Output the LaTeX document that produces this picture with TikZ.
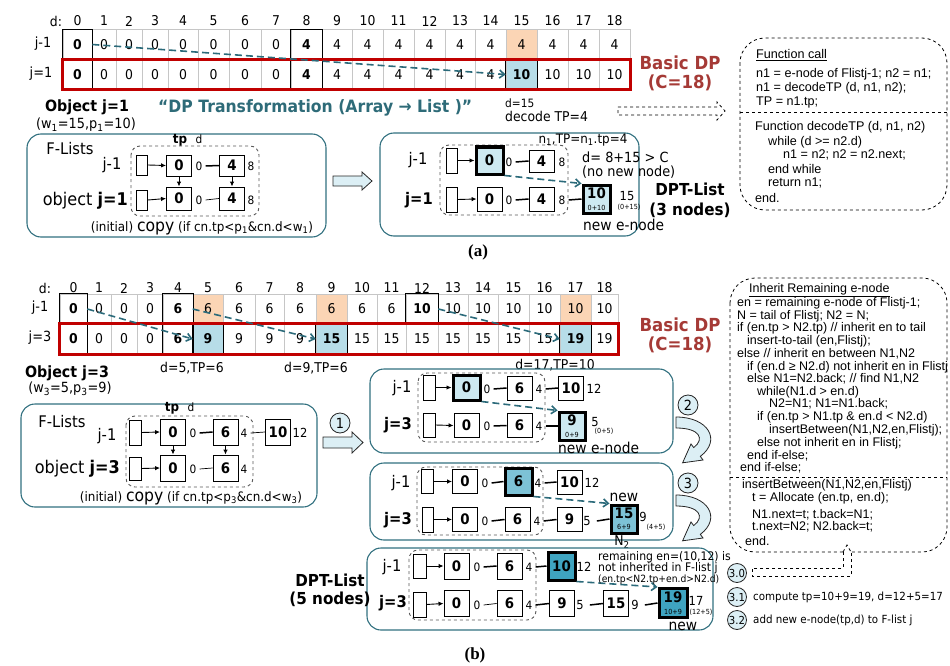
\documentclass[tikz,border=0pt]{standalone}
\usepackage{fontspec}
\setmainfont{DejaVu Sans}[FakeStretch=0.92]
\newfontfamily\codefont{Liberation Sans}
\newfontfamily\serifont{Liberation Serif}
\usetikzlibrary{arrows.meta,calc}
\newcommand\fsz[1]{\fontsize{#1}{#1}\selectfont}
\definecolor{tealb}{HTML}{31707F}
\definecolor{teala}{HTML}{2B6A7A}
\definecolor{teatxt}{HTML}{2E6B78}
\definecolor{lblue}{HTML}{B7DDE8}
\definecolor{nblue}{HTML}{CDE9F1}
\definecolor{mblue}{HTML}{7DC2D6}
\definecolor{dblue}{HTML}{3FA4C0}
\definecolor{orng}{HTML}{FBD5B5}
\definecolor{dred}{HTML}{A53A36}
\definecolor{rbox}{HTML}{C00000}
\definecolor{afill}{HTML}{DCEFF5}
\newcommand\cl[4]{\node[codel] (#1) at (#2,#3) {#4};}
\newcommand\cm[4]{\node[codem] (#1) at (#2,#3) {#4};}
\begin{document}
\begin{tikzpicture}[x=1pt,y=-1pt,
 acell/.style={draw=gray!45, line width=0.6pt, inner sep=0pt, minimum height=29.5pt, font=\fsz{13.5}},
 cN/.style={}, cB/.style={font=\fsz{13.5}\bfseries}, cO/.style={fill=orng},
 cU/.style={fill=lblue, font=\fsz{13.5}\bfseries},
 blk/.style={draw=black, line width=1.3pt},
 hdr/.style={font=\fsz{13.5}, inner sep=0pt},
 redbox/.style={draw=rbox, line width=3pt},
 tbox/.style={draw=tealb, line width=1.1pt, rounded corners=14pt},
 dbox/.style={draw=gray!70!black, dashed, line width=0.9pt, rounded corners=9pt},
 hbox/.style={draw, line width=0.8pt, inner sep=0pt, minimum width=11pt},
 lnode/.style={draw, line width=0.9pt, inner sep=0pt, minimum width=25pt, minimum height=24pt, font=\fsz{14.5}\bfseries},
 enode/.style={lnode, line width=3pt},
 sm/.style={font=\fsz{11.5}, inner sep=0pt},
 tnyt/.style={font=\fsz{7}, inner sep=0pt},
 lk/.style={line width=1.5pt}, lkt/.style={line width=0.7pt},
 ar/.style={-{Latex[length=5pt,width=4.5pt]}, line width=0.9pt},
 tarrow/.style={draw=teala, line width=1.6pt, dash pattern=on 7pt off 4pt, -{Straight Barb[length=5pt,width=8pt]}},
 lbl/.style={font=\fsz{16}, inner sep=0pt},
 objl/.style={font=\fsz{17.5}, inner sep=0pt, anchor=east},
 codel/.style={font=\codefont\fsz{12.6}, inner sep=0pt, anchor=west, text height=9pt, text depth=2.5pt},
 codem/.style={font=\codefont\fsz{12.5}, inner sep=0pt, anchor=west, text height=9pt, text depth=2.5pt},
 cdash/.style={draw, dashed, line width=0.8pt},
 circ/.style={circle, draw=gray!30!black, fill=afill, line width=0.8pt, inner sep=0pt, minimum size=20pt, font=\fsz{14}},
 barrow/.style={draw=gray!30!black, fill=afill, line width=0.8pt}
]
\useasboundingbox (0,0) rectangle (950,666);

%================ (a) array
\node[hdr] (hda) at (56,21) {d:};
\foreach \xl/\xr [count=\i from 0] in {63/92,92/116,116/142,142/168,168/198,198/229,229/261,261/291,291/322,322/352,352/383,383/414,414/445,445/475,475/506,506/537,537/568,568/599,599/630}
 {\node[hdr] (ha\i) at ({(\xl+\xr)/2},21) {\i};}
\foreach \xl/\xr/\v/\s [count=\i from 0] in {63/92/0/cB,92/116/0/cN,116/142/0/cN,142/168/0/cN,168/198/0/cN,198/229/0/cN,229/261/0/cN,261/291/0/cN,291/322/4/cB,322/352/4/cN,352/383/4/cN,383/414/4/cN,414/445/4/cN,445/475/4/cN,475/506/4/cN,506/537/4/cO,537/568/4/cN,568/599/4/cN,599/630/4/cN}
 {\node[acell,\s,minimum width={(\xr-\xl)*1pt}] (ta\i) at ({(\xl+\xr)/2},44.5) {\v};}
\foreach \xl/\xr/\v/\s [count=\i from 0] in {63/92/0/cB,92/116/0/cN,116/142/0/cN,142/168/0/cN,168/198/0/cN,198/229/0/cN,229/261/0/cN,261/291/0/cN,291/322/4/cB,322/352/4/cN,352/383/4/cN,383/414/4/cN,414/445/4/cN,445/475/4/cN,475/506/4/cN,506/537/10/cU,537/568/10/cN,568/599/10/cN,599/630/10/cN}
 {\node[acell,\s,minimum width={(\xr-\xl)*1pt}] (tb\i) at ({(\xl+\xr)/2},74.5) {\v};}
\foreach \n in {ta0,ta8,tb0,tb8,tb15} \draw[blk] (\n.north west) rectangle (\n.south east);
\draw[redbox] (tb0.north west) rectangle (tb18.south east);
\node[font=\fsz{14}, inner sep=0] (ra1) at (43,44) {j-1};
\node[font=\fsz{14}, inner sep=0] (ra2) at (41,74) {j=1};
\draw[tarrow] (ta0.east) -- (tb15.west);
\node[font={\fontsize{18}{19}\selectfont\bfseries}, text=dred, align=center, inner sep=0] (bdpa) at (680,73) {Basic DP\\(C=18)};

%================ (a) code box
\draw[cdash, rounded corners=25pt] (740,38) rectangle (947,210);
\draw[cdash] (740,112) -- (947,112);
\cl{k1}{756}{55}{\underline{Function call}}
\cl{k2}{756}{74}{n1 = e-node of Flistj-1; n2 = n1;}
\cl{k3}{756}{88}{n1 = decodeTP (d, n1, n2);}
\cl{k4}{756}{102}{TP = n1.tp;}
\cl{k5}{755}{127}{Function decodeTP (d, n1, n2)}
\cl{k6}{768}{142}{while (d >= n2.d)}
\cl{k7}{783}{155}{n1 = n2; n2 = n2.next;}
\cl{k8}{768}{170}{end while}
\cl{k9}{768}{183}{return n1;}
\cl{k10}{755}{199}{end.}
\draw[cdash] (618,107) -- (717,107) -- (717,102) -- (725,111) -- (717,120) -- (717,115) -- (618,115) -- cycle;

%================ (a) middle
\node[font=\fsz{15.5}\bfseries, inner sep=0] (obj1) at (87,107) {Object j=1};
\node[font=\fsz{14}, inner sep=0] (w1) at (86,125) {(w\textsubscript{1}=15,p\textsubscript{1}=10)};
\node[font=\fsz{17}\bfseries, text=teatxt, inner sep=0, anchor=west] (dptr) at (158,108) {“DP Transformation (Array → List )”};

\draw[tbox] (27,134) rectangle (326,237);
\node[lbl] (fl1) at (70,149) {F-Lists};
\node[lbl] (jm1a) at (112,165) {j-1};
\node[objl] (ob1) at (128,201) {object \textbf{j=1}};
\draw[dbox] (131,146) rectangle (259,216);
\node[font=\fsz{13}\bfseries, inner sep=0] (tp1) at (180,140) {tp};
\node[sm] (d1) at (199,139) {d};
\node[hbox, minimum height=20pt] (h1a) at (142,165) {};
\node[hbox, minimum height=20pt] (h1b) at (142,200) {};
\node[lnode, minimum height=21pt] (n1a0) at (179,165.5) {0};
\node[lnode, minimum height=21pt] (n1a4) at (232,165.5) {4};
\node[lnode, minimum height=23pt] (n1b0) at (179,198.5) {0};
\node[lnode, minimum height=23pt] (n1b4) at (232,198.5) {4};
\node[sm] (l1a0) at (199,166) {0};
\node[sm] (l1a8) at (251,166) {8};
\node[sm] (l1b0) at (199,200) {0};
\node[sm] (l1b8) at (251,200) {8};
\draw[lk] ([xshift=3pt]l1a0.east) -- (n1a4.west);
\draw[lkt] ([xshift=3pt]l1b0.east) -- (n1b4.west);
\draw[ar] (h1a.east) -- (n1a0.west);
\draw[ar] (h1b.east) -- (n1b0.west);
\draw[ar] (n1a0.south) -- (n1b0.north);
\draw[ar] (n1a4.south) -- (n1b4.north);
\node[inner sep=0, font=\fsz{13}] (cp1) at (202,228) {(initial) {\fsz{17}copy} (if cn.tp<p\textsubscript{1}\&cn.d<w\textsubscript{1})};
\draw[barrow] (333,176) -- (362,176) -- (362,172) -- (372,181) -- (362,190) -- (362,186) -- (333,186) -- cycle;

\draw[tbox] (380,133) rectangle (639,236);
\node[lbl] (jm1b) at (418,160) {j-1};
\node[lbl, font=\fsz{16}\bfseries] (j1b) at (419,200) {j=1};
\draw[dbox] (440,145) rectangle (568,215);
\node[hbox, minimum height=25pt] (h2a) at (451.5,160.5) {};
\node[hbox, minimum height=25pt] (h2b) at (451.5,199.5) {};
\node[enode, fill=nblue, minimum width=27pt, minimum height=27pt] (n2a0) at (489.5,160.5) {0};
\node[lnode, minimum height=22pt] (n2a4) at (541.5,161) {4};
\node[lnode] (n2b0) at (489.5,199) {0};
\node[lnode] (n2b4) at (541.5,199) {4};
\node[enode, fill=nblue, minimum width=27pt, minimum height=28pt, align=center] (n2b10) at (596.5,199) {\fsz{14.5}\bfseries 10\\[-3pt]\fsz{7}\mdseries 0+10};
\node[sm] (l2a0) at (509,162) {0};
\node[sm] (l2a8) at (562,162) {8};
\node[sm] (l2b0) at (509,200) {0};
\node[sm] (l2b8) at (562,200) {8};
\node[font=\fsz{12.5}, inner sep=0] (l2b15) at (627,196) {15};
\node[tnyt] (l2b15s) at (629,207) {(0+15)};
\draw[lk] ([xshift=3pt]l2a0.east) -- (n2a4.west);
\draw[lk] ([xshift=3pt]l2b0.east) -- (n2b4.west);
\draw[lk] ([xshift=3pt]l2b8.east) -- (n2b10.west);
\draw[ar] (h2a.east) -- (n2a0.west);
\draw[ar] (h2b.east) -- (n2b0.west);
\draw[tarrow] (n2a0.south east) -- (n2b10.north west);
\node[font=\fsz{13}, inner sep=0] (n1tp) at (583,140) {n\textsubscript{1},TP=n\textsubscript{1}.tp=4};
\node[font=\fsz{14}, inner sep=0, anchor=west] (dc1) at (582,157) {d= 8+15 > C};
\node[font=\fsz{14}, inner sep=0, anchor=west] (dc2) at (582,172) {(no new node)};
\node[font=\fsz{15}, inner sep=0, anchor=west] (ne1) at (583,225) {new e-node};
\node[sm, anchor=west] (d15) at (505,103) {d=15};
\node[font=\fsz{13.5}, inner sep=0, anchor=west] (dtp) at (505,116) {decode TP=4};
\node[font={\fontsize{16.5}{20}\selectfont\bfseries}, align=center, inner sep=0] (dpt3) at (690,200) {DPT-List\\(3 nodes)};
\node[font=\serifont\fsz{17}\bfseries, inner sep=0] (laba) at (478,252) {(a)};

%================ (b) array
\node[hdr] (hdb) at (45,288) {d:};
\foreach \xl/\xr [count=\i from 0] in {60/87,87/111,111/137,137/163,163/193,193/223,223/255,255/284,284/316,316/347,347/377,377/406,406/438,438/468,468/498,498/529,529/560,560/591,591/618}
 {\node[hdr] (hb\i) at ({(\xl+\xr)/2},288) {\i};}
\foreach \xl/\xr/\v/\s [count=\i from 0] in {60/87/0/cB,87/111/0/cN,111/137/0/cN,137/163/0/cN,163/193/6/cB,193/223/6/cO,223/255/6/cN,255/284/6/cN,284/316/6/cN,316/347/6/cO,347/377/6/cN,377/406/6/cN,406/438/10/cB,438/468/10/cN,468/498/10/cN,498/529/10/cN,529/560/10/cN,560/591/10/cO,591/618/10/cN}
 {\node[acell,\s,minimum width={(\xr-\xl)*1pt},minimum height=30pt] (ua\i) at ({(\xl+\xr)/2},309) {\v};}
\foreach \xl/\xr/\v/\s [count=\i from 0] in {60/87/0/cB,87/111/0/cN,111/137/0/cN,137/163/0/cN,163/193/6/cB,193/223/9/cU,223/255/9/cN,255/284/9/cN,284/316/9/cN,316/347/15/cU,347/377/15/cN,377/406/15/cN,406/438/15/cN,438/468/15/cN,468/498/15/cN,498/529/15/cN,529/560/15/cN,560/591/19/cU,591/618/19/cN}
 {\node[acell,\s,minimum width={(\xr-\xl)*1pt},minimum height=30pt] (ub\i) at ({(\xl+\xr)/2},339) {\v};}
\foreach \n in {ua0,ua4,ua12,ub0,ub4,ub5,ub9,ub17} \draw[blk] (\n.north west) rectangle (\n.south east);
\draw[redbox] (ub0.north west) rectangle (ub18.south east);
\node[font=\fsz{14}, inner sep=0] (rb1) at (40,308) {j-1};
\node[font=\fsz{14}, inner sep=0] (rb2) at (40,338) {j=3};
\draw[tarrow] (ua0.east) -- (ub5.west);
\draw[tarrow] (ua5.west) -- (ub9.west);
\draw[tarrow] (ua12.east) -- (ub17.west);
\node[font={\fontsize{18}{19}\selectfont\bfseries}, text=dred, align=center, inner sep=0] (bdpb) at (680,335) {Basic DP\\(C=18)};
\node[font=\fsz{13.5}, inner sep=0] (dtp5) at (192,368) {d=5,TP=6};
\node[font=\fsz{13.5}, inner sep=0] (dtp9) at (316,368) {d=9,TP=6};
\node[font=\fsz{13.5}, inner sep=0] (dtp17) at (555,365) {d=17,TP=10};

%================ (b) left
\node[font=\fsz{15.5}\bfseries, inner sep=0] (obj3) at (67,373) {Object j=3};
\node[font=\fsz{14}, inner sep=0] (w3) at (70,389) {(w\textsubscript{3}=5,p\textsubscript{3}=9)};
\draw[tbox] (21,404) rectangle (317,507);
\node[lbl] (fl3) at (62,422) {F-Lists};
\node[lbl] (jm3a) at (107,436) {j-1};
\node[objl] (ob3) at (120,469) {object \textbf{j=3}};
\draw[dbox] (126,416) rectangle (253,487);
\node[font=\fsz{13}\bfseries, inner sep=0] (tp3) at (172,408) {tp};
\node[sm] (d3) at (191,407) {d};
\node[hbox, minimum width=12pt, minimum height=25pt] (h3a) at (135,432.5) {};
\node[hbox, minimum width=12pt, minimum height=23pt] (h3b) at (135,468.5) {};
\node[lnode, minimum height=26pt] (c3a0) at (173,432) {0};
\node[lnode, minimum height=26pt] (c3a6) at (225.5,432) {6};
\node[lnode, minimum height=26pt] (c3a10) at (278,432) {10};
\node[lnode, minimum height=26pt] (c3b0) at (173,468) {0};
\node[lnode, minimum height=26pt] (c3b6) at (225.5,468) {6};
\node[sm] (g3a0) at (193,433) {0};
\node[sm] (g3a4) at (244,433) {4};
\node[font=\fsz{12.5}, inner sep=0] (g3a12) at (300,433) {12};
\node[sm] (g3b0) at (193,469) {0};
\node[sm] (g3b4) at (244,469) {4};
\draw[lk] ([xshift=3pt]g3a0.east) -- (c3a6.west);
\draw[lkt] ([xshift=3pt]g3a4.east) -- (c3a10.west);
\draw[lkt] ([xshift=3pt]g3b0.east) -- (c3b6.west);
\draw[ar] (h3a.east) -- (c3a0.west);
\draw[ar] (h3b.east) -- (c3b0.west);
\draw[ar] (c3a0.south) -- (c3b0.north);
\draw[ar] (c3a6.south) -- (c3b6.north);
\node[inner sep=0, font=\fsz{13}] (cp3) at (191,498) {(initial) {\fsz{17}copy} (if cn.tp<p\textsubscript{3}\&cn.d<w\textsubscript{3})};
\node[circ] (ci1) at (340,423) {1};
\draw[barrow] (323,437) -- (352,437) -- (352,432) -- (363,442.5) -- (352,453) -- (352,448) -- (323,448) -- cycle;

%================ (b) box 1
\draw[tbox] (370,369) rectangle (673,453);
\node[lbl] (b1j) at (402,388) {j-1};
\node[lbl, font=\fsz{16}\bfseries] (b1k) at (398,425) {j=3};
\draw[dbox] (418,373) rectangle (545,442);
\node[hbox, minimum width=12pt, minimum height=25pt] (hb1a) at (429,387.5) {};
\node[hbox, minimum width=12pt, minimum height=24pt] (hb1b) at (429,425) {};
\node[enode, fill=nblue, minimum width=27pt, minimum height=25pt] (p1a0) at (466.5,387.5) {0};
\node[lnode] (p1a6) at (519.5,388) {6};
\node[lnode] (p1a10) at (571,388) {10};
\node[lnode] (p1b0) at (466.5,425.5) {0};
\node[lnode] (p1b6) at (519.5,425.5) {6};
\node[enode, fill=nblue, minimum width=26pt, minimum height=28pt, align=center] (p1b9) at (572,426) {\fsz{14.5}\bfseries 9\\[-3pt]\fsz{7}\mdseries 0+9};
\node[sm] (q1a0) at (487,389) {0};
\node[sm] (q1a4) at (539,389) {4};
\node[font=\fsz{12.5}, inner sep=0] (q1a12) at (594,389) {12};
\node[sm] (q1b0) at (487,426) {0};
\node[sm] (q1b4) at (539,426) {4};
\node[font=\fsz{12.5}, inner sep=0] (q1b5) at (595,422) {5};
\node[tnyt] (q1b5s) at (604,431) {(0+5)};
\draw[lk] ([xshift=3pt]q1a0.east) -- (p1a6.west);
\draw[lk] ([xshift=3pt]q1a4.east) -- (p1a10.west);
\draw[lk] ([xshift=3pt]q1b0.east) -- (p1b6.west);
\draw[lk] ([xshift=3pt]q1b4.east) -- (p1b9.west);
\draw[ar] (hb1a.east) -- (p1a0.west);
\draw[ar] (hb1b.east) -- (p1b0.west);
\draw[tarrow] (p1a0.south east) -- (p1b9.north west);
\node[font=\fsz{15}, inner sep=0, anchor=west] (ne2) at (558,448) {new e-node};

%================ (b) box 2
\draw[tbox] (370,463) rectangle (673,540);
\node[lbl] (b2j) at (401,483) {j-1};
\node[lbl, font=\fsz{16}\bfseries] (b2k) at (398,520) {j=3};
\draw[dbox] (417,467) rectangle (543,535);
\node[hbox, minimum width=12pt, minimum height=24pt] (hb2a) at (427.5,481.5) {};
\node[hbox, minimum width=11pt, minimum height=25pt] (hb2b) at (428,519.5) {};
\node[lnode] (p2a0) at (465,481.5) {0};
\node[enode, fill=mblue, minimum width=27pt, minimum height=27pt] (p2a6) at (518.5,481.5) {6};
\node[lnode] (p2a10) at (569.5,482) {10};
\node[lnode] (p2b0) at (465,519.5) {0};
\node[lnode] (p2b6) at (517.5,519.5) {6};
\node[lnode] (p2b9) at (569.5,519.5) {9};
\node[enode, fill=mblue, minimum width=26pt, minimum height=28pt, align=center] (p2b15) at (624,519) {\fsz{14.5}\bfseries 15\\[-3pt]\fsz{7}\mdseries 6+9};
\node[sm] (q2a0) at (485,483) {0};
\node[sm] (q2a4) at (538,483) {4};
\node[font=\fsz{12.5}, inner sep=0] (q2a12) at (592,483) {12};
\node[sm] (q2b0) at (485,521) {0};
\node[sm] (q2b4) at (537,521) {4};
\node[font=\fsz{12.5}, inner sep=0] (q2b5) at (587,521) {5};
\node[font=\fsz{12.5}, inner sep=0] (q2b9) at (643,517) {9};
\node[tnyt] (q2b9s) at (656,527) {(4+5)};
\draw[lk] ([xshift=3pt]q2a0.east) -- (p2a6.west);
\draw[lk] ([xshift=3pt]q2a4.east) -- (p2a10.west);
\draw[lk] ([xshift=3pt]q2b0.east) -- (p2b6.west);
\draw[lk] ([xshift=3pt]q2b4.east) -- (p2b9.west);
\draw[lk] ([xshift=6pt]q2b5.east) -- (p2b15.west);
\draw[ar] (hb2a.east) -- (p2a0.west);
\draw[ar] (hb2b.east) -- (p2b0.west);
\draw[tarrow] (p2a6.south east) -- (p2b15.north west);
\node[font=\fsz{15}, inner sep=0] (new2) at (624,497) {new};
\node[font=\fsz{13.5}, inner sep=0] (n2lab) at (622,542) {N\textsubscript{2}};

%================ (b) box 3
\draw[tbox] (367,548) rectangle (713,630);
\node[lbl] (b3j) at (392,567) {j-1};
\node[lbl, font=\fsz{16}\bfseries] (b3k) at (393,603) {j=3};
\draw[dbox] (409,550) rectangle (536,620);
\node[hbox, minimum width=13pt, minimum height=24pt] (hb3a) at (419.5,566) {};
\node[hbox, minimum width=13pt, minimum height=25pt] (hb3b) at (419.5,604.5) {};
\node[lnode, minimum height=26pt] (p3a0) at (456.5,566) {0};
\node[lnode, minimum height=26pt] (p3a6) at (509.5,566) {6};
\node[enode, fill=dblue, minimum width=27pt, minimum height=28pt] (p3a10) at (561.5,566) {10};
\node[lnode, minimum height=26pt] (p3b0) at (456.5,603.5) {0};
\node[lnode, minimum height=26pt] (p3b6) at (509.5,603.5) {6};
\node[lnode, minimum height=26pt] (p3b9) at (562,603.5) {9};
\node[lnode, minimum height=26pt] (p3b15) at (616,603.5) {15};
\node[enode, fill=dblue, minimum width=28pt, minimum height=29pt, align=center] (p3b19) at (673,603) {\fsz{14.5}\bfseries 19\\[-3pt]\fsz{7}\mdseries 10+9};
\node[sm] (q3a0) at (477,567) {0};
\node[sm] (q3a4) at (529,567) {4};
\node[font=\fsz{12.5}, inner sep=0] (q3a12) at (584,567) {12};
\node[sm] (q3b0) at (477,605) {0};
\node[sm] (q3b4) at (529,605) {4};
\node[font=\fsz{12.5}, inner sep=0] (q3b5) at (580,605) {5};
\node[font=\fsz{12.5}, inner sep=0] (q3b9) at (635,605) {9};
\node[font=\fsz{12.5}, inner sep=0] (q3b17) at (696,601) {17};
\node[tnyt] (q3b17s) at (701,612) {(12+5)};
\draw[lk] ([xshift=3pt]q3a0.east) -- (p3a6.west);
\draw[lk] ([xshift=3pt]q3a4.east) -- (p3a10.west);
\draw[lkt] ([xshift=3pt]q3b0.east) -- (p3b6.west);
\draw[lk] ([xshift=3pt]q3b4.east) -- (p3b9.west);
\draw[lk] ([xshift=6pt]q3b5.east) -- (p3b15.west);
\draw[lk] ([xshift=6pt]q3b9.east) -- (p3b19.west);
\draw[ar] (hb3a.east) -- (p3a0.west);
\draw[ar] (hb3b.east) -- (p3b0.west);
\draw[tarrow] (p3a10.south east) -- (p3b19.north west);
\node[font=\fsz{15}, inner sep=0] (new3) at (683,626) {new};
\node[font=\fsz{11.8}, inner sep=0, anchor=west] (rem1) at (598,557) {remaining en=(10,12) is};
\node[font=\fsz{11.8}, inner sep=0, anchor=west] (rem2) at (598,568) {not inherited in F-list j};
\node[font=\fsz{10}, inner sep=0, anchor=west] (rem3) at (598,580) {(en.tp<N2.tp+en.d>N2.d)};
\node[font={\fontsize{16.5}{18}\selectfont\bfseries}, align=center, inner sep=0] (dpt5) at (330,590) {DPT-List\\(5 nodes)};

%================ curved arrows and circles
\node[circ] (ci2) at (688,405) {2};
\node[circ] (ci3) at (688,483) {3};
\draw[barrow] (676,417) .. controls (708,417) and (722,440) .. (700.3,456.4) -- (703,460) -- (682.6,462.8) -- (691,444) -- (693.7,447.6) .. controls (705,439) and (700,428) .. (676,428) -- cycle;
\begin{scope}[yshift=-78pt]
\draw[barrow] (676,417) .. controls (708,417) and (722,440) .. (700.3,456.4) -- (703,460) -- (682.6,462.8) -- (691,444) -- (693.7,447.6) .. controls (705,439) and (700,428) .. (676,428) -- cycle;
\end{scope}

%================ (b) code box
\draw[cdash, rounded corners=25pt] (730,278) rectangle (947,552);
\draw[cdash] (730,477) -- (947,477);
\cm{m1}{749}{289}{\underline{Inherit Remaining e-node}}
\cm{m2}{737}{303}{en = remaining e-node of Flistj-1;}
\cm{m3}{737}{316}{N = tail of Flistj; N2 = N;}
\cm{m4}{737}{328}{if (en.tp > N2.tp) // inherit en to tail}
\cm{m5}{747}{341}{insert-to-tail (en,Flistj);}
\cm{m6}{737}{354}{else // inherit en between N1,N2}
\cm{m7}{747}{367}{if (en.d ≥ N2.d) not inherit en in Flistj}
\cm{m8}{747}{379}{else N1=N2.back; // find N1,N2}
\cm{m9}{757}{392}{while(N1.d > en.d)}
\cm{m10}{769}{404}{N2=N1; N1=N1.back;}
\cm{m11}{757}{417}{if (en.tp > N1.tp \& en.d < N2.d)}
\cm{m12}{769}{430}{insertBetween(N1,N2,en,Flistj);}
\cm{m13}{757}{443}{else not inherit en in Flistj;}
\cm{m14}{747}{456}{end if-else;}
\cm{m15}{740}{468}{end if-else;}
\cm{m16}{742}{485}{insertBetween(N1,N2,en,Flistj)}
\cm{m17}{752}{498}{t = Allocate (en.tp, en.d);}
\cm{m18}{752}{515}{N1.next=t; t.back=N1;}
\cm{m19}{752}{527}{t.next=N2; N2.back=t;}
\cm{m20}{745}{542}{end.}
\fill[white] (843.6,549) rectangle (850.4,555);
\draw[cdash] (843,552) -- (847,545) -- (851,552);
\draw[cdash] (843,552) -- (843,568) -- (752,568) -- (752,576) -- (851,576) -- (851,552);
\node[circ, minimum size=19pt, font=\fsz{11}] (c30) at (737,573) {3.0};
\node[circ, minimum size=19pt, font=\fsz{11}] (c31) at (737,597) {3.1};
\node[circ, minimum size=19pt, font=\fsz{11}] (c32) at (737,620) {3.2};
\node[font=\fsz{11.2}, anchor=west, inner sep=0] (t31) at (753,597) {compute tp=10+9=19, d=12+5=17};
\node[font=\fsz{11.2}, anchor=west, inner sep=0] (t32) at (753,620) {add new e-node(tp,d) to F-list j};
\node[font=\serifont\fsz{17}\bfseries, inner sep=0] (labb) at (475,655) {(b)};
\end{tikzpicture}
\end{document}
